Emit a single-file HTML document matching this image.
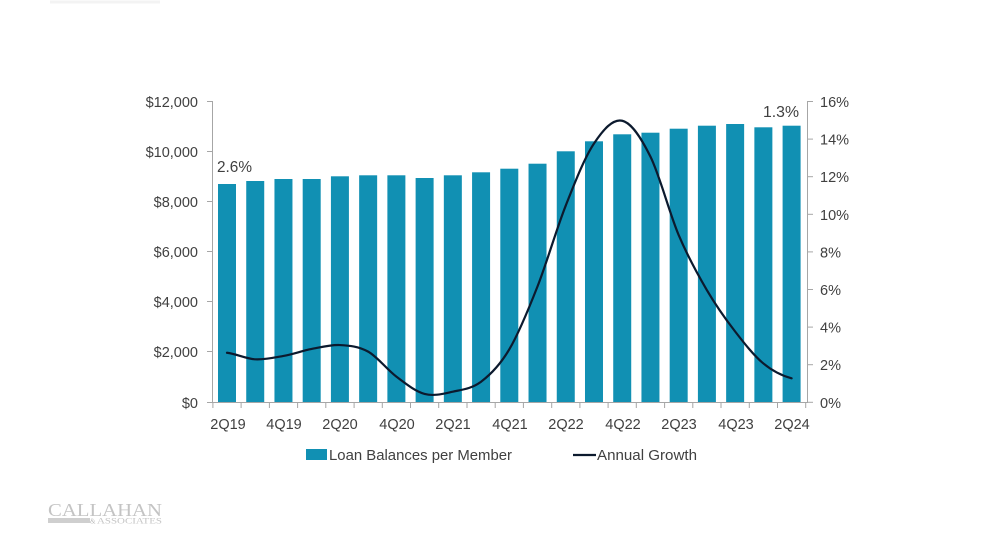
<!DOCTYPE html>
<html>
<head>
<meta charset="utf-8">
<style>
  html, body { margin:0; padding:0; background:#fff; }
  body { width:1000px; height:542px; overflow:hidden; }
  svg { display:block; }
  text { font-family: "Liberation Sans", "DejaVu Sans", sans-serif; fill:#404040; }
</style>
</head>
<body>
<svg width="1000" height="542" viewBox="0 0 1000 542" xmlns="http://www.w3.org/2000/svg">
  <rect width="1000" height="542" fill="#fff"/>
  <line x1="50" y1="2" x2="160" y2="2" stroke="#f3f3f3" stroke-width="3"/>

  <g fill="#1190b3">
    <rect x="218.00" y="184.0" width="18" height="218.0"/>
    <rect x="246.23" y="181.0" width="18" height="221.0"/>
    <rect x="274.46" y="179.0" width="18" height="223.0"/>
    <rect x="302.69" y="179.0" width="18" height="223.0"/>
    <rect x="330.92" y="176.3" width="18" height="225.7"/>
    <rect x="359.15" y="175.3" width="18" height="226.7"/>
    <rect x="387.38" y="175.3" width="18" height="226.7"/>
    <rect x="415.61" y="178.0" width="18" height="224.0"/>
    <rect x="443.84" y="175.3" width="18" height="226.7"/>
    <rect x="472.07" y="172.3" width="18" height="229.7"/>
    <rect x="500.30" y="168.7" width="18" height="233.3"/>
    <rect x="528.53" y="163.7" width="18" height="238.3"/>
    <rect x="556.76" y="151.3" width="18" height="250.7"/>
    <rect x="584.99" y="141.3" width="18" height="260.7"/>
    <rect x="613.22" y="134.3" width="18" height="267.7"/>
    <rect x="641.45" y="132.7" width="18" height="269.3"/>
    <rect x="669.68" y="128.7" width="18" height="273.3"/>
    <rect x="697.91" y="125.7" width="18" height="276.3"/>
    <rect x="726.14" y="124.0" width="18" height="278.0"/>
    <rect x="754.37" y="127.3" width="18" height="274.7"/>
    <rect x="782.60" y="125.7" width="18" height="276.3"/>
  </g>

  <g stroke="#a6a6a6" stroke-width="1" fill="none">
    <line x1="212.5" y1="101" x2="212.5" y2="402"/>
    <line x1="807.5" y1="101" x2="807.5" y2="402"/>
    <line x1="212" y1="402.5" x2="808" y2="402.5"/>
    <line x1="207" y1="101.5" x2="212.5" y2="101.5"/>
    <line x1="207" y1="151.5" x2="212.5" y2="151.5"/>
    <line x1="207" y1="201.5" x2="212.5" y2="201.5"/>
    <line x1="207" y1="251.5" x2="212.5" y2="251.5"/>
    <line x1="207" y1="301.5" x2="212.5" y2="301.5"/>
    <line x1="207" y1="351.5" x2="212.5" y2="351.5"/>
    <line x1="207" y1="402.5" x2="212.5" y2="402.5"/>
    <line x1="807.5" y1="101.5" x2="813" y2="101.5"/>
    <line x1="807.5" y1="139.1" x2="813" y2="139.1"/>
    <line x1="807.5" y1="176.7" x2="813" y2="176.7"/>
    <line x1="807.5" y1="214.3" x2="813" y2="214.3"/>
    <line x1="807.5" y1="251.9" x2="813" y2="251.9"/>
    <line x1="807.5" y1="289.5" x2="813" y2="289.5"/>
    <line x1="807.5" y1="327.1" x2="813" y2="327.1"/>
    <line x1="807.5" y1="364.7" x2="813" y2="364.7"/>
    <line x1="807.5" y1="402.3" x2="813" y2="402.3"/>
    <line x1="212.9" y1="402" x2="212.9" y2="408"/>
    <line x1="241.1" y1="402" x2="241.1" y2="408"/>
    <line x1="269.4" y1="402" x2="269.4" y2="408"/>
    <line x1="297.6" y1="402" x2="297.6" y2="408"/>
    <line x1="325.8" y1="402" x2="325.8" y2="408"/>
    <line x1="354.1" y1="402" x2="354.1" y2="408"/>
    <line x1="382.3" y1="402" x2="382.3" y2="408"/>
    <line x1="410.5" y1="402" x2="410.5" y2="408"/>
    <line x1="438.7" y1="402" x2="438.7" y2="408"/>
    <line x1="467.0" y1="402" x2="467.0" y2="408"/>
    <line x1="495.2" y1="402" x2="495.2" y2="408"/>
    <line x1="523.4" y1="402" x2="523.4" y2="408"/>
    <line x1="551.7" y1="402" x2="551.7" y2="408"/>
    <line x1="579.9" y1="402" x2="579.9" y2="408"/>
    <line x1="608.1" y1="402" x2="608.1" y2="408"/>
    <line x1="636.3" y1="402" x2="636.3" y2="408"/>
    <line x1="664.6" y1="402" x2="664.6" y2="408"/>
    <line x1="692.8" y1="402" x2="692.8" y2="408"/>
    <line x1="721.0" y1="402" x2="721.0" y2="408"/>
    <line x1="749.3" y1="402" x2="749.3" y2="408"/>
    <line x1="777.5" y1="402" x2="777.5" y2="408"/>
    <line x1="805.7" y1="402" x2="805.7" y2="408"/>
  </g>

  <path fill="none" stroke="#0c1a2e" stroke-width="2.2" stroke-linejoin="round" stroke-linecap="round"
    d="M227,352.74
       C236.41,353.84 245.82,358.79 255.23,359.32
       C264.64,359.85 274.05,357.66 283.46,355.94
       C292.87,354.22 302.28,350.80 311.69,348.98
       C321.10,347.16 330.51,344.60 339.92,345.04
       C349.33,345.48 358.74,346.36 368.15,351.62
       C377.56,356.88 386.97,369.57 396.38,376.62
       C405.79,383.67 415.20,391.41 424.61,393.92
       C434.02,396.43 443.43,393.70 452.84,391.66
       C462.25,389.62 471.66,388.75 481.07,381.70
       C490.48,374.65 499.89,365.25 509.30,349.36
       C518.71,333.47 528.12,310.35 537.53,286.38
       C546.94,262.41 556.35,229.35 565.76,205.54
       C575.17,181.73 584.58,157.63 593.99,143.50
       C603.40,129.37 612.81,118.56 622.22,120.75
       C631.63,122.94 641.04,137.61 650.45,156.66
       C659.86,175.71 669.27,212.81 678.68,235.06
       C688.09,257.31 697.50,274.07 706.91,290.14
       C716.32,306.21 725.73,319.28 735.14,331.50
       C744.55,343.72 753.96,355.66 763.37,363.46
       C772.78,371.26 782.19,375.83 791.60,378.31"/>

  <g font-size="14.5" text-anchor="end">
    <text x="198" y="107">$12,000</text>
    <text x="198" y="157">$10,000</text>
    <text x="198" y="207">$8,000</text>
    <text x="198" y="257">$6,000</text>
    <text x="198" y="307">$4,000</text>
    <text x="198" y="357">$2,000</text>
    <text x="198" y="408">$0</text>
  </g>
  <g font-size="14.5" text-anchor="start">
    <text x="820" y="107">16%</text>
    <text x="820" y="144.6">14%</text>
    <text x="820" y="182.2">12%</text>
    <text x="820" y="219.8">10%</text>
    <text x="820" y="257.4">8%</text>
    <text x="820" y="295">6%</text>
    <text x="820" y="332.6">4%</text>
    <text x="820" y="370.2">2%</text>
    <text x="820" y="408">0%</text>
  </g>
  <g font-size="14.5" text-anchor="middle">
    <text x="228" y="429">2Q19</text>
    <text x="284" y="429">4Q19</text>
    <text x="340" y="429">2Q20</text>
    <text x="397" y="429">4Q20</text>
    <text x="453" y="429">2Q21</text>
    <text x="510" y="429">4Q21</text>
    <text x="566" y="429">2Q22</text>
    <text x="623" y="429">4Q22</text>
    <text x="679" y="429">2Q23</text>
    <text x="736" y="429">4Q23</text>
    <text x="792" y="429">2Q24</text>
  </g>

  <text x="217" y="172" font-size="16" textLength="35" lengthAdjust="spacingAndGlyphs">2.6%</text>
  <text x="763" y="117" font-size="16" textLength="36" lengthAdjust="spacingAndGlyphs">1.3%</text>

  <rect x="306" y="449" width="21" height="11" fill="#1190b3"/>
  <text x="329" y="460" font-size="14.5" textLength="183" lengthAdjust="spacingAndGlyphs">Loan Balances per Member</text>
  <line x1="573" y1="455" x2="596" y2="455" stroke="#0c1a2e" stroke-width="2.2"/>
  <text x="597" y="460" font-size="14.5" textLength="100" lengthAdjust="spacingAndGlyphs">Annual Growth</text>

  <text x="48" y="516" style="font-family:'Liberation Serif', serif; font-size:18px; fill:#c4c4c4" textLength="114" lengthAdjust="spacingAndGlyphs">CALLAHAN</text>
  <rect x="48" y="518" width="42" height="5" fill="#cfcfcf"/>
  <text x="90" y="523.5" style="font-family:'Liberation Serif', serif; font-size:7px; fill:#bbbbbb">&amp;</text>
  <text x="97" y="523.5" style="font-family:'Liberation Serif', serif; font-size:8px; fill:#c4c4c4" textLength="65" lengthAdjust="spacingAndGlyphs">ASSOCIATES</text>
</svg>
</body>
</html>
